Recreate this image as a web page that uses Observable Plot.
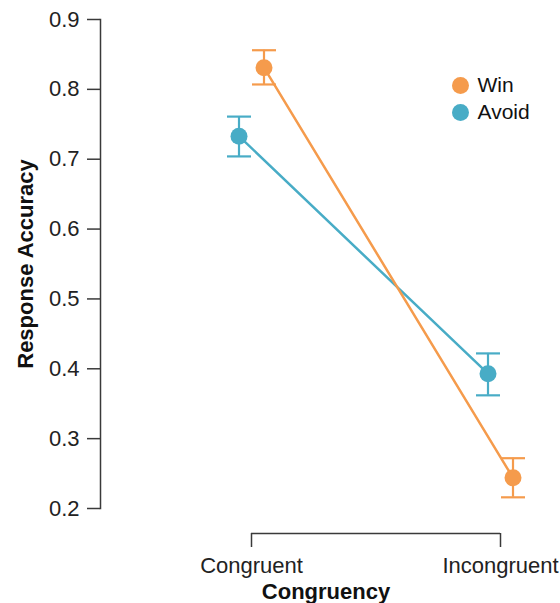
<!DOCTYPE html>
<html><head><meta charset="utf-8">
<script src="https://cdn.jsdelivr.net/npm/d3@7"></script>
<script src="https://cdn.jsdelivr.net/npm/@observablehq/plot@0.6"></script>
<style>body{margin:0;background:#fff;}</style>
</head><body><div id="chart"></div>
<script>
const categories = ["Congruent", "Incongruent"];
const series = ["Win", "Avoid"];
const winMean = [0.831, 0.244];
const winLower = [0.807, 0.216];
const winUpper = [0.856, 0.272];
const avoidMean = [0.733, 0.393];
const avoidLower = [0.704, 0.362];
const avoidUpper = [0.761, 0.422];
const yTicks = [0.2, 0.3, 0.4, 0.5, 0.6, 0.7, 0.8, 0.9];
const yDomain = [0.2, 0.9];
const colors = {Win: "#f59b4c", Avoid: "#48acc6"};
const offsets = {Win: 12.5, Avoid: -12.5};

const seriesData = {
  Win: categories.map((c, i) => ({series: "Win", category: c, mean: winMean[i], lower: winLower[i], upper: winUpper[i]})),
  Avoid: categories.map((c, i) => ({series: "Avoid", category: c, mean: avoidMean[i], lower: avoidLower[i], upper: avoidUpper[i]}))
};

const cap = {draw(ctx) { ctx.moveTo(-12, 0); ctx.lineTo(12, 0); }};

const marks = [];
for (const s of ["Avoid", "Win"]) {
  const rows = seriesData[s];
  const col = colors[s];
  const dx = offsets[s];
  marks.push(Plot.line(rows, {x: "category", y: "mean", stroke: col, strokeWidth: 2.5, dx}));
  marks.push(Plot.ruleX(rows, {x: "category", y1: "lower", y2: "upper", stroke: col, strokeWidth: 2.2, dx}));
  marks.push(Plot.dot(rows, {x: "category", y: "upper", symbol: cap, fill: "none", stroke: col, strokeWidth: 2.2, dx}));
  marks.push(Plot.dot(rows, {x: "category", y: "lower", symbol: cap, fill: "none", stroke: col, strokeWidth: 2.2, dx}));
  marks.push(Plot.dot(rows, {x: "category", y: "mean", r: 8.5, fill: col, stroke: "none", dx}));
}

series.forEach((s, i) => {
  marks.push(Plot.dot([s], {frameAnchor: "top-right", dx: -91, dy: 66 + i * 27, r: 8.5, fill: colors[s]}));
  marks.push(Plot.text([s], {frameAnchor: "top-right", dx: -74, dy: 66 + i * 27, textAnchor: "start", lineAnchor: "middle", fontSize: 21, fill: "#111"}));
});

const bracket = [{y: yDomain[0], from: categories[0], to: categories[categories.length - 1]}];

const chart = Plot.plot({
  width: 560,
  height: 603,
  marginLeft: 100,
  marginRight: 9,
  marginTop: 19,
  marginBottom: 95,
  style: {fontFamily: "'Liberation Sans', Arial, sans-serif", background: "#fff"},
  x: {type: "point", domain: categories, range: [251, 500], padding: 0},
  y: {domain: yDomain},
  marks: [
    Plot.frame({anchor: "left", stroke: "#3a3a3a", strokeWidth: 1.5}),
    Plot.axisY({ticks: yTicks, tickFormat: d3.format(".1f"), tickSize: 13, tickPadding: 8, fontSize: 22, color: "#222", stroke: "#3a3a3a", strokeWidth: 1.5, label: null}),
    Plot.ruleY(bracket, {y: "y", x1: "from", x2: "to", dy: 25, stroke: "#3a3a3a", strokeWidth: 1.5}),
    Plot.axisX({tickSize: 14, dy: 25, tickPadding: 10, fontSize: 22, color: "#222", stroke: "#3a3a3a", strokeWidth: 1.5, label: null}),
    Plot.text(["Response Accuracy"], {frameAnchor: "left", rotate: -90, dx: -83, lineAnchor: "top", textAnchor: "middle", fontSize: 22, fontWeight: "bold", fill: "#111"}),
    Plot.text(["Congruency"], {frameAnchor: "bottom", dy: 75, lineAnchor: "top", textAnchor: "middle", fontSize: 22, fontWeight: "bold", fill: "#111"}),
    ...marks
  ]
});
document.getElementById("chart").appendChild(chart);
</script>
</body></html>
